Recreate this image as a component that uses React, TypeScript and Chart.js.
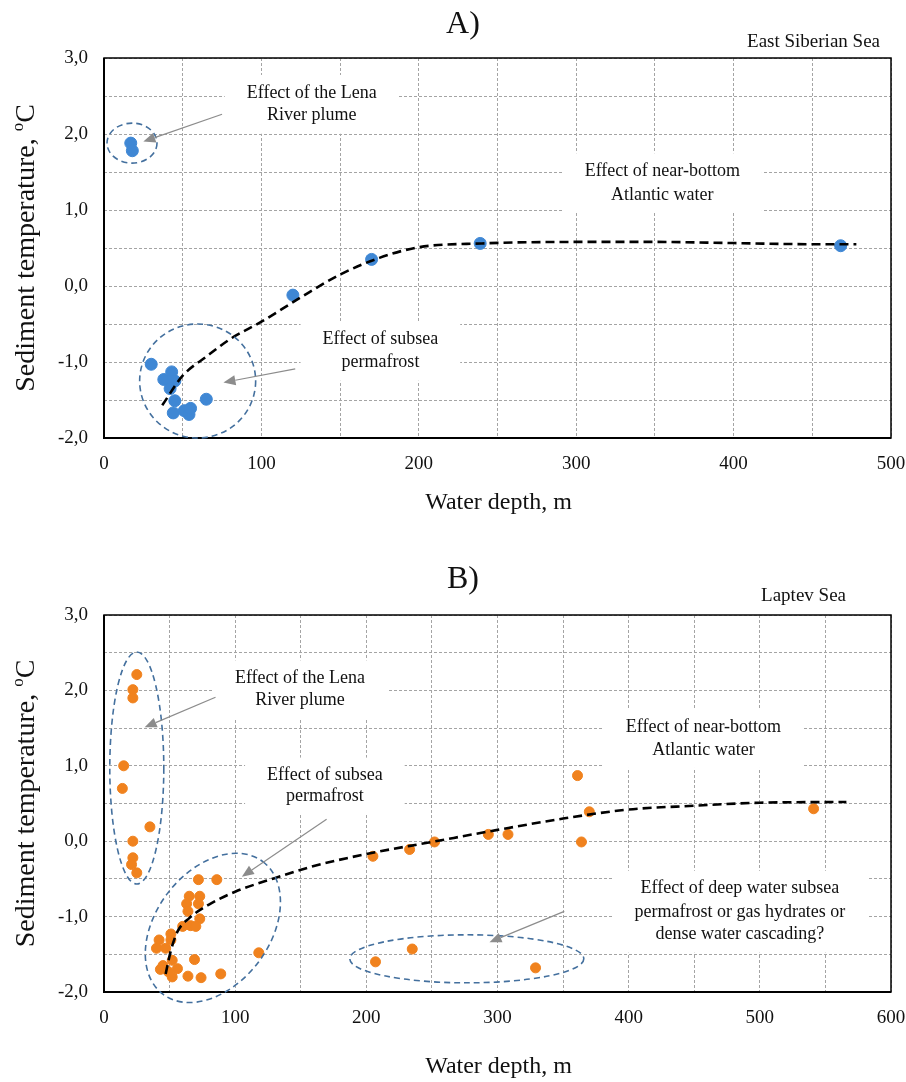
import React, { useEffect, useRef } from 'react';
import { Chart, registerables } from 'chart.js';

Chart.register(...registerables);

const SERIF = '"Liberation Serif", "Times New Roman", serif';

// ---------- Panel A: East Siberian Sea ----------
const depthA = [17, 18, 30, 38, 43, 45, 42, 45, 44, 51, 54, 55, 65, 120, 170, 239, 468];
const tempA = [1.88, 1.78, -1.03, -1.23, -1.13, -1.25, -1.35, -1.51, -1.67, -1.64, -1.69, -1.61, -1.49, -0.12, 0.35, 0.56, 0.53];
const trendDepthA = [37, 50, 65, 80, 100, 125, 150, 175, 200, 240, 300, 350, 400, 450, 478];
const trendTempA = [-1.57, -1.18, -0.93, -0.7, -0.47, -0.15, 0.15, 0.37, 0.51, 0.56, 0.58, 0.58, 0.565, 0.55, 0.55];

// ---------- Panel B: Laptev Sea ----------
const depthB = [
  25, 22, 22, 15, 14, 35, 22, 22, 21, 25,
  72, 86, 65, 73, 63, 72, 64, 73, 60, 66, 70, 51, 42, 51, 40, 47, 52, 69, 45, 43, 49, 52, 56, 64, 74, 89, 118,
  205, 233, 252, 293, 308, 361, 370, 364, 541,
  207, 235, 329,
];
const tempB = [
  2.21, 2.01, 1.9, 1.0, 0.7, 0.19, 0.0, -0.22, -0.31, -0.42,
  -0.51, -0.51, -0.73, -0.73, -0.83, -0.83, -0.93, -1.03, -1.13, -1.12, -1.13, -1.23, -1.31, -1.31, -1.42, -1.42, -1.58, -1.57, -1.65, -1.7, -1.73, -1.8, -1.69, -1.79, -1.81, -1.76, -1.48,
  -0.2, -0.11, -0.01, 0.09, 0.09, 0.87, 0.39, -0.01, 0.43,
  -1.6, -1.43, -1.68,
];
const trendDepthB = [47, 51, 56, 65, 80, 100, 130, 160, 200, 250, 300, 350, 400, 450, 500, 566];
const trendTempB = [-1.76, -1.45, -1.2, -1.02, -0.84, -0.67, -0.49, -0.33, -0.17, -0.01, 0.15, 0.3, 0.42, 0.47, 0.51, 0.52];

const yTickLabels = ['-2,0', '-1,0', '0,0', '1,0', '2,0', '3,0'];
const yTickValues = [-2, -1, 0, 1, 2, 3];

type TextNote = { lines: string[]; x: number; y: number[] };
type EllipseNote = { x: number; y: number; rx: number; ry: number; rot: number };
type ArrowNote = { x0: number; y0: number; x1: number; y1: number };
type PanelSpec = {
  title: string;
  titleY: number;
  sea: string;
  seaRight: number;
  seaY: number;
  xTitleY: number;
  texts: TextNote[];
  ellipses: EllipseNote[];
  arrows: ArrowNote[];
};

const specA: PanelSpec = {
  title: 'A)',
  titleY: 25,
  sea: 'East Siberian Sea',
  seaRight: 880,
  seaY: 42,
  xTitleY: 503,
  texts: [
    { lines: ['Effect of the Lena', 'River plume'], x: 132, y: [2.54, 2.24] },
    { lines: ['Effect of subsea', 'permafrost'], x: 175.6, y: [-0.7, -1.01] },
    { lines: ['Effect of near-bottom', 'Atlantic water'], x: 354.7, y: [1.51, 1.2] },
  ],
  ellipses: [
    { x: 17.8, y: 1.88, rx: 25, ry: 20, rot: 0 },
    { x: 59.5, y: -1.25, rx: 58, ry: 57, rot: 0 },
  ],
  arrows: [
    { x0: 75, y0: 2.26, x1: 25, y1: 1.9 },
    { x0: 121.5, y0: -1.09, x1: 75.9, y1: -1.27 },
  ],
};

const specB: PanelSpec = {
  title: 'B)',
  titleY: 40,
  sea: 'Laptev Sea',
  seaRight: 846,
  seaY: 56,
  xTitleY: 527,
  texts: [
    { lines: ['Effect of the Lena', 'River plume'], x: 149.4, y: [2.16, 1.87] },
    { lines: ['Effect of subsea', 'permafrost'], x: 168.4, y: [0.87, 0.59] },
    { lines: ['Effect of near-bottom', 'Atlantic water'], x: 457, y: [1.51, 1.21] },
    {
      lines: ['Effect of deep water subsea', 'permafrost or gas hydrates or', 'dense water cascading?'],
      x: 484.8,
      y: [-0.63, -0.94, -1.24],
    },
  ],
  ellipses: [
    { x: 25, y: 0.97, rx: 27, ry: 116, rot: 0 },
    { x: 83, y: -1.15, rx: 83, ry: 57, rot: -53 },
    { x: 276.6, y: -1.56, rx: 117, ry: 24, rot: 0 },
  ],
  arrows: [
    { x0: 85, y0: 1.91, x1: 31, y1: 1.51 },
    { x0: 169.7, y0: 0.29, x1: 105.1, y1: -0.47 },
    { x0: 350.9, y0: -0.93, x1: 293.9, y1: -1.34 },
  ],
};

const TEXT_COLOR = '#111';
const GRID_COLOR = '#a4a4a4';
const NOTE_FONT = 18;

function makeNotesPlugin(spec: PanelSpec) {
  return {
    id: 'notes',
    beforeDatasetsDraw(chart: any) {
      const { ctx, chartArea: a, scales } = chart;
      const xs = scales.x;
      const ys = scales.y;
      ctx.save();
      ctx.font = `${NOTE_FONT}px ${SERIF}`;
      // white text boxes masking the grid
      for (const t of spec.texts) {
        const px = xs.getPixelForValue(t.x);
        const pys = t.y.map((v) => ys.getPixelForValue(v));
        const w = Math.max(...t.lines.map((l) => ctx.measureText(l).width));
        const top = Math.min(...pys) - NOTE_FONT / 2 - 9;
        const bot = Math.max(...pys) + NOTE_FONT / 2 + 9;
        ctx.fillStyle = '#fff';
        ctx.fillRect(px - w / 2 - 22, top, w + 44, bot - top);
      }
      ctx.fillStyle = TEXT_COLOR;
      ctx.textAlign = 'center';
      ctx.textBaseline = 'middle';
      for (const t of spec.texts) {
        const px = xs.getPixelForValue(t.x);
        t.lines.forEach((l, i) => ctx.fillText(l, px, ys.getPixelForValue(t.y[i])));
      }
      // plot frame
      ctx.strokeStyle = '#000';
      ctx.lineWidth = 1.5;
      ctx.strokeRect(a.left, a.top, a.right - a.left, a.bottom - a.top);
      ctx.lineWidth = 2;
      ctx.beginPath();
      ctx.moveTo(a.left, a.top);
      ctx.lineTo(a.left, a.bottom);
      ctx.lineTo(a.right, a.bottom);
      ctx.stroke();
      ctx.restore();
    },
    afterDatasetsDraw(chart: any) {
      const { ctx, scales } = chart;
      const xs = scales.x;
      const ys = scales.y;
      ctx.save();
      // dashed ellipses
      ctx.strokeStyle = '#44709e';
      ctx.lineWidth = 1.6;
      ctx.setLineDash([6, 4]);
      for (const e of spec.ellipses) {
        ctx.beginPath();
        ctx.ellipse(xs.getPixelForValue(e.x), ys.getPixelForValue(e.y), e.rx, e.ry, (e.rot * Math.PI) / 180, 0, Math.PI * 2);
        ctx.stroke();
      }
      ctx.setLineDash([]);
      // arrows
      for (const r of spec.arrows) {
        const x0 = xs.getPixelForValue(r.x0);
        const y0 = ys.getPixelForValue(r.y0);
        const x1 = xs.getPixelForValue(r.x1);
        const y1 = ys.getPixelForValue(r.y1);
        const ang = Math.atan2(y1 - y0, x1 - x0);
        const head = 12;
        const half = 5;
        const bx = x1 - head * Math.cos(ang);
        const by = y1 - head * Math.sin(ang);
        ctx.strokeStyle = '#8c8c8c';
        ctx.fillStyle = '#8c8c8c';
        ctx.lineWidth = 1.2;
        ctx.beginPath();
        ctx.moveTo(x0, y0);
        ctx.lineTo(bx, by);
        ctx.stroke();
        ctx.beginPath();
        ctx.moveTo(x1, y1);
        ctx.lineTo(bx + half * Math.sin(ang), by - half * Math.cos(ang));
        ctx.lineTo(bx - half * Math.sin(ang), by + half * Math.cos(ang));
        ctx.closePath();
        ctx.fill();
      }
      ctx.restore();
    },
    afterDraw(chart: any) {
      const { ctx, chartArea: a } = chart;
      ctx.save();
      ctx.fillStyle = TEXT_COLOR;
      // panel title
      ctx.font = `32px ${SERIF}`;
      ctx.textAlign = 'center';
      ctx.textBaseline = 'middle';
      ctx.fillText(spec.title, 463, spec.titleY);
      // sea name
      ctx.font = `19px ${SERIF}`;
      ctx.textAlign = 'right';
      ctx.fillText(spec.sea, spec.seaRight, spec.seaY);
      // x axis title
      ctx.font = `24px ${SERIF}`;
      ctx.textAlign = 'center';
      ctx.fillText('Water depth, m', (a.left + a.right) / 2 + 1, spec.xTitleY);
      // y axis title with superscript o
      ctx.translate(25, (a.top + a.bottom) / 2);
      ctx.rotate(-Math.PI / 2);
      ctx.textAlign = 'left';
      ctx.textBaseline = 'alphabetic';
      const big = `28px ${SERIF}`;
      const small = `17px ${SERIF}`;
      const main = 'Sediment temperature, ';
      ctx.font = big;
      const wMain = ctx.measureText(main).width;
      const wC = ctx.measureText('C').width;
      ctx.font = small;
      const wO = ctx.measureText('o').width;
      let cx = -(wMain + wO + wC) / 2;
      const base = 9;
      ctx.font = big;
      ctx.fillText(main, cx, base);
      cx += wMain;
      ctx.font = small;
      ctx.fillText('o', cx, base - 11);
      cx += wO;
      ctx.font = big;
      ctx.fillText('C', cx, base);
      ctx.restore();
    },
  };
}

type BuildArgs = {
  xs: number[];
  ys: number[];
  tx: number[];
  ty: number[];
  color: string;
  radius: number;
  xMax: number;
  height: number;
  top: number;
  bottom: number;
  spec: PanelSpec;
};

function buildConfig(p: BuildArgs): any {
  const points = p.xs.map((x, i) => ({ x, y: p.ys[i] }));
  const trend = p.tx.map((x, i) => ({ x, y: p.ty[i] }));
  return {
    type: 'scatter',
    data: {
      datasets: [
        {
          type: 'line',
          data: trend,
          borderColor: '#000',
          borderWidth: 2.6,
          borderDash: [9, 5],
          pointRadius: 0,
          fill: false,
          cubicInterpolationMode: 'monotone',
          order: 0,
        },
        {
          data: points,
          backgroundColor: p.color,
          borderColor: p.color,
          pointRadius: p.radius,
          pointHoverRadius: p.radius,
          order: 1,
        },
      ],
    },
    options: {
      responsive: false,
      animation: false,
      devicePixelRatio: 1,
      layout: { padding: { top: p.top, right: 15, left: 0, bottom: 0 } },
      plugins: { legend: { display: false }, tooltip: { enabled: false }, title: { display: false } },
      scales: {
        x: {
          type: 'linear',
          min: 0,
          max: p.xMax,
          ticks: {
            stepSize: 50,
            autoSkip: false,
            maxRotation: 0,
            padding: 15,
            color: TEXT_COLOR,
            font: { family: SERIF, size: 19 },
            callback: (v: number) => (v % 100 === 0 ? String(v) : ''),
          },
          grid: { color: GRID_COLOR, lineWidth: 1, drawTicks: false },
          border: { display: false, dash: [3, 2] },
          afterFit: (s: any) => {
            s.height = p.height - p.bottom;
            s.paddingLeft = 0;
            s.paddingRight = 0;
          },
        },
        y: {
          type: 'linear',
          min: -2,
          max: 3,
          ticks: {
            stepSize: 0.5,
            autoSkip: false,
            padding: 16,
            color: TEXT_COLOR,
            font: { family: SERIF, size: 19 },
            callback: (v: number) => {
              const i = yTickValues.indexOf(v);
              return i >= 0 ? yTickLabels[i] : '';
            },
          },
          grid: { color: GRID_COLOR, lineWidth: 1, drawTicks: false },
          border: { display: false, dash: [3, 2] },
          afterFit: (s: any) => {
            s.width = 104;
            s.paddingTop = 0;
            s.paddingBottom = 0;
          },
        },
      },
    },
    plugins: [makeNotesPlugin(p.spec)],
  };
}

function Panel({ args }: { args: BuildArgs }) {
  const ref = useRef<HTMLCanvasElement>(null);
  useEffect(() => {
    const chart = new Chart(ref.current as HTMLCanvasElement, buildConfig(args));
    return () => chart.destroy();
  }, []);
  return (
    <canvas
      ref={ref}
      width={906}
      height={args.height}
      style={{ display: 'block', width: 906, height: args.height }}
    />
  );
}

const argsA: BuildArgs = {
  xs: depthA,
  ys: tempA,
  tx: trendDepthA,
  ty: trendTempA,
  color: '#3f87d4',
  radius: 6,
  xMax: 500,
  height: 540,
  top: 58,
  bottom: 438,
  spec: specA,
};

const argsB: BuildArgs = {
  xs: depthB,
  ys: tempB,
  tx: trendDepthB,
  ty: trendTempB,
  color: '#f0821e',
  radius: 5,
  xMax: 600,
  height: 542,
  top: 75,
  bottom: 452,
  spec: specB,
};

export default function App() {
  return (
    <div style={{ position: 'absolute', left: 0, top: 0, width: 906, height: 1082, background: '#fff' }}>
      <Panel args={argsA} />
      <Panel args={argsB} />
    </div>
  );
}
